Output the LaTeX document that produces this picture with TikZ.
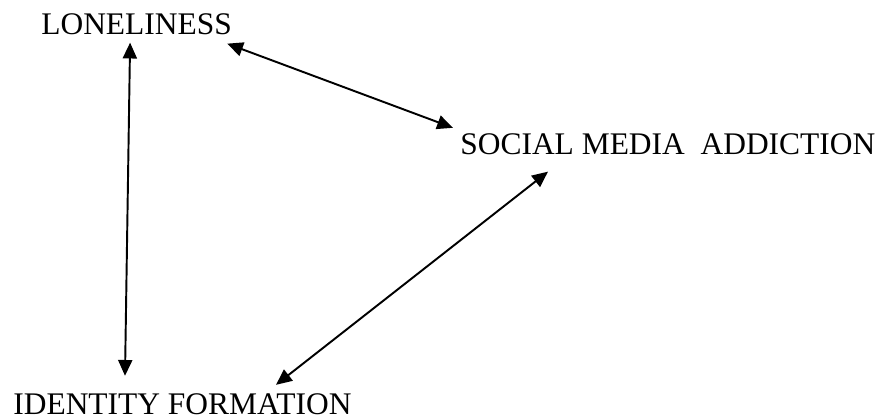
\documentclass[tikz,border=0pt]{standalone}
\usepackage{fontspec}
\setmainfont{Liberation Serif}
\usepackage{tikz}
\usetikzlibrary{arrows.meta}

\begin{document}
\begin{tikzpicture}[
    label/.style={inner sep=0pt, anchor=base west, font=\fontsize{17.9}{20}\selectfont},
    link/.style={line width=1.1pt, {Triangle[length=9pt,width=8pt]}-{Triangle[length=9pt,width=8pt]}}]
   \useasboundingbox (0,0) rectangle (17.66,8.38);
   \node[label] (lon) at (0.82,7.68) {LONELINESS};
   \node[label] (soc) at (9.20,5.28) {SOCIAL MEDIA \ ADDICTION};
   \node[label] (ident) at (0.26,0.08) {IDENTITY FORMATION};
   \draw[link] ([shift={(-0.13,-0.14)}]lon.south) -- ([shift={(2.24,0.36)}]ident.north west);
   \draw[link] ([shift={(-0.10,-0.16)}]lon.south east) -- ([shift={(-0.14,0.12)}]soc.north west);
   \draw[link] ([shift={(1.76,-0.32)}]soc.south west) -- ([shift={(5.26,0.18)}]ident.north west);
 \end{tikzpicture}
\end{document}
